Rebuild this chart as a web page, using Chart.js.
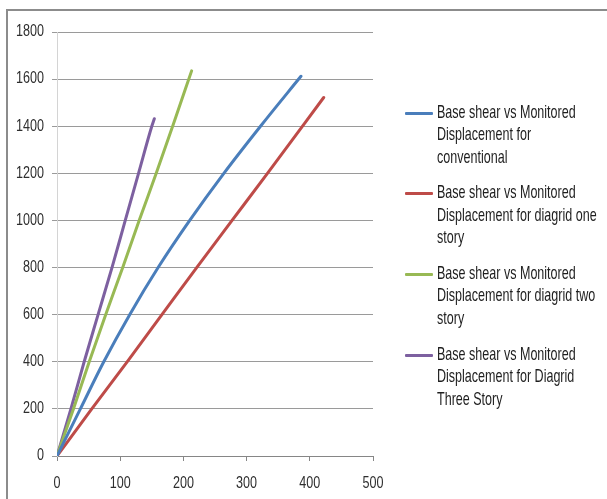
<!DOCTYPE html>
<html>
<head>
<meta charset="utf-8">
<script src="https://cdn.jsdelivr.net/npm/chart.js@4/dist/chart.umd.min.js"></script>
<style>
  html, body { margin: 0; padding: 0; background: #fff; }
  #wrap { position: relative; width: 607px; height: 499px; overflow: hidden; }
  #frame { position: absolute; left: 6px; top: 9px; width: 620px; height: 520px;
           border-top: 2px solid #8c8c8c; border-left: 2px solid #8c8c8c; }
  #chartBox { position: absolute; left: 0; top: 0; width: 607px; height: 499px; }
  #legend { position: absolute; left: 405px; top: 100.5px; width: 200px;
            font-family: "Liberation Sans", Arial, sans-serif;
            font-size: 19px; line-height: 22.5px; color: #1e1e1e; }
  .item { position: relative; height: 67.5px; margin-bottom: 13.2px; }
  .swatch { position: absolute; left: 0; top: 11.3px; width: 28px; height: 3px; border-radius: 1px; }
  .text { position: absolute; left: 32px; top: 0; width: 248px;
          transform: scaleX(0.66); transform-origin: 0 0; }
</style>
</head>
<body>
<div id="wrap">
  <div id="frame"></div>
  <div id="chartBox"><canvas id="c" width="607" height="499"></canvas></div>
  <div id="legend"></div>
</div>
<script>
// Series names
const seriesNames = [
  "Base shear vs Monitored Displacement for conventional",
  "Base shear vs Monitored Displacement for diagrid one story",
  "Base shear vs Monitored Displacement for diagrid two story",
  "Base shear vs Monitored Displacement for Diagrid Three Story"
];
const seriesColors = ["#4a7ebb", "#be4b48", "#98b954", "#7d60a0"];

// Conventional frame
const conventionalDisp  = [0, 37, 74, 115, 160, 210, 264, 322, 386];
const conventionalShear = [0, 200, 400, 600, 800, 1000, 1200, 1400, 1612];
// Diagrid, one story module
const diagridOneDisp  = [0, 55, 111, 166, 221, 277, 333, 422];
const diagridOneShear = [0, 200, 400, 600, 800, 1000, 1200, 1522];
// Diagrid, two story module
const diagridTwoDisp  = [0, 26, 51, 77, 104, 130, 157, 183, 213];
const diagridTwoShear = [0, 200, 400, 600, 800, 1000, 1200, 1400, 1635];
// Diagrid, three story module
const diagridThreeDisp  = [0, 22, 43, 65, 87, 108, 129, 150, 154];
const diagridThreeShear = [0, 200, 400, 600, 800, 1000, 1200, 1400, 1432];

// Tick values on both axes
const xTicks = [0, 100, 200, 300, 400, 500];
const yTicks = [0, 200, 400, 600, 800, 1000, 1200, 1400, 1600, 1800];

const seriesX = [conventionalDisp, diagridOneDisp, diagridTwoDisp, diagridThreeDisp];
const seriesY = [conventionalShear, diagridOneShear, diagridTwoShear, diagridThreeShear];

const datasets = seriesNames.map((name, i) => ({
  label: name,
  data: seriesX[i].map((x, k) => ({ x: x, y: seriesY[i][k] })),
  borderColor: seriesColors[i],
  backgroundColor: seriesColors[i],
  borderWidth: 3,
  borderCapStyle: 'round',
  borderJoinStyle: 'round',
  pointRadius: 0,
  showLine: true,
  cubicInterpolationMode: 'monotone'
}));

// Narrow tick labels: each label is squeezed horizontally around its anchor
const LABEL_FONT = '16.8px "Liberation Sans", Arial, sans-serif';
const LABEL_SQUEEZE = 0.75;
const narrowTickLabels = {
  id: 'narrowTickLabels',
  afterDraw(chart) {
    const ctx = chart.ctx;
    const xs = chart.scales.x, ys = chart.scales.y;
    ctx.save();
    ctx.font = LABEL_FONT;
    ctx.fillStyle = '#2e2e2e';
    ctx.textBaseline = 'alphabetic';
    ys.ticks.forEach(t => {
      const py = ys.getPixelForValue(t.value);
      ctx.save();
      ctx.translate(44, py + 4.3);
      ctx.scale(LABEL_SQUEEZE, 1);
      ctx.textAlign = 'right';
      ctx.fillText(String(t.value), 0, 0);
      ctx.restore();
    });
    xs.ticks.forEach(t => {
      const px = xs.getPixelForValue(t.value);
      ctx.save();
      ctx.translate(px, xs.bottom - 43 + 32);
      ctx.scale(LABEL_SQUEEZE, 1);
      ctx.textAlign = 'center';
      ctx.fillText(String(t.value), 0, 0);
      ctx.restore();
    });
    ctx.restore();
  }
};

new Chart(document.getElementById('c'), {
  type: 'scatter',
  data: { datasets: datasets },
  plugins: [narrowTickLabels],
  options: {
    responsive: false,
    animation: false,
    layout: { padding: { left: 0, top: 32, right: 234, bottom: 0 } },
    plugins: { legend: { display: false }, tooltip: { enabled: false } },
    scales: {
      x: {
        type: 'linear',
        min: xTicks[0], max: xTicks[xTicks.length - 1],
        afterBuildTicks: s => { s.ticks = xTicks.map(v => ({ value: v })); },
        afterFit: s => { s.height = 43; },
        ticks: { display: false },
        grid: { display: true, drawOnChartArea: false, color: '#868686', tickLength: 5 },
        border: { display: true, color: '#868686', width: 1 }
      },
      y: {
        type: 'linear',
        min: yTicks[0], max: yTicks[yTicks.length - 1],
        afterBuildTicks: s => { s.ticks = yTicks.map(v => ({ value: v })); },
        afterFit: s => { s.width = 57; },
        ticks: { display: false },
        grid: { color: '#9a9a9a', tickLength: 5, lineWidth: 1 },
        border: { display: true, color: '#d4d4d4', width: 1 }
      }
    }
  }
});

// Legend: one coloured swatch and wrapped label per series
const legend = document.getElementById('legend');
seriesNames.forEach((name, i) => {
  const item = document.createElement('div');
  item.className = 'item';
  const sw = document.createElement('span');
  sw.className = 'swatch';
  sw.style.background = seriesColors[i];
  const tx = document.createElement('span');
  tx.className = 'text';
  tx.textContent = name;
  item.appendChild(sw);
  item.appendChild(tx);
  legend.appendChild(item);
});
</script>
</body>
</html>
